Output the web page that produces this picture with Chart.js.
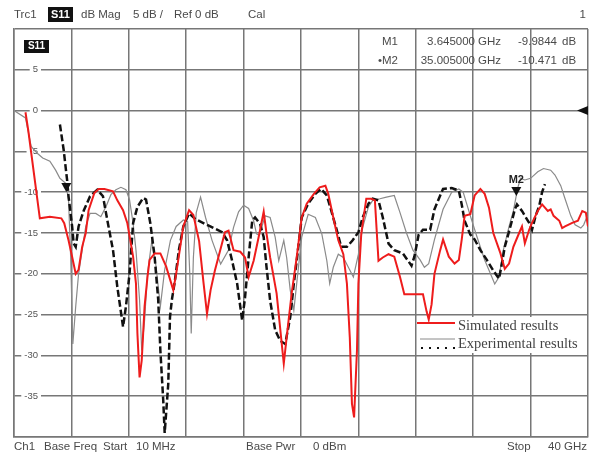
<!DOCTYPE html>
<html>
<head>
<meta charset="utf-8">
<script src="https://cdn.jsdelivr.net/npm/chart.js@4"></script>
<style>
  html, body { margin: 0; padding: 0; background: #fff; }
  #wrap { width: 589px; height: 459px; }
</style>
</head>
<body>
<div id="wrap"><canvas id="vnaChart" width="589" height="459"></canvas></div>
<script>
// frequency in GHz, magnitude in dB
const simFreq = [0.8, 1.0, 1.8, 2.5, 3.3, 3.5, 3.8, 4.05, 4.3, 4.5, 4.75, 5.0, 5.2, 5.6, 5.9, 6.3, 6.9, 7.2, 7.6, 7.9,
  8.3, 8.5, 8.6, 8.75, 8.9, 9.1, 9.3, 9.45, 9.8, 10.2, 10.6, 11.1, 11.3, 11.8, 12.2, 12.5, 12.9, 13.2, 13.45, 13.7,
  14.0, 14.7, 14.95, 15.3, 15.77, 16.1, 16.35, 16.7, 17.05, 17.4, 17.6, 17.85, 18.3, 18.8, 19.0, 19.35, 19.7, 20.05, 20.4, 20.9,
  21.3, 21.7, 21.9, 22.25, 22.6, 22.95, 23.2, 23.4, 23.55, 23.7, 23.9, 24.0, 24.2, 24.55, 24.9, 25.15, 25.4, 25.7, 26.1, 26.5,
  26.9, 27.2, 27.8, 28.5, 28.75, 28.9, 29.1, 29.3, 29.7, 29.9, 30.3, 30.7, 31.0, 31.2, 31.4, 31.8, 32.1, 32.5, 32.8, 33.1,
  33.4, 33.9, 34.2, 34.5, 34.8, 35.2, 35.4, 35.6, 35.9, 36.1, 36.5, 36.8, 37.2, 37.4, 37.6, 38.0, 38.2, 38.4, 38.9, 39.3,
  39.6, 39.85, 40.0];
const simDb = [-0.2, -2.5, -13.2, -13.0, -13.2, -13.8, -15.9, -17.9, -20.0, -19.5, -16.7, -15.0, -12.2, -10.1, -9.6, -9.6, -9.9, -11.0, -12.2, -13.8,
  -17.9, -21.2, -27.3, -32.7, -30.6, -24.0, -20.4, -18.3, -17.5, -17.5, -19.1, -22.0, -20.0, -14.2, -12.2, -12.8, -16.0, -21.0, -24.9, -22.0,
  -19.6, -14.9, -14.7, -17.1, -17.3, -18.0, -20.4, -18.4, -15.5, -12.4, -15.1, -18.0, -22.4, -31.0, -27.8, -22.4, -18.0, -13.1, -11.4, -10.2,
  -9.4, -9.2, -10.2, -13.1, -15.9, -17.6, -21.2, -27.8, -35.9, -37.6, -29.4, -21.2, -15.1, -10.8, -10.8, -11.0, -18.4, -18.0, -17.6, -17.9,
  -20.4, -22.5, -22.5, -22.5, -24.6, -25.6, -23.75, -20.0, -17.1, -15.8, -17.9, -18.75, -18.3, -15.8, -12.9, -12.7, -10.4, -9.6, -10.2, -11.9,
  -15.0, -17.5, -19.4, -18.75, -16.7, -15.0, -14.2, -16.25, -14.6, -13.75, -12.3, -11.5, -12.3, -12.1, -12.9, -13.5, -14.4, -14.2, -13.75, -13.5,
  -12.3, -12.5, -14.2];

const expFreq = [3.2, 3.46, 3.7, 3.8, 4.05, 4.16, 4.3, 4.5, 4.87, 5.3, 5.8, 6.2, 6.5, 6.9, 7.2, 7.6, 7.8, 8.05, 8.3, 8.6,
  9.0, 9.2, 9.5, 9.8, 10.05, 10.2, 10.4, 10.5, 10.75, 10.87, 11.0, 11.2, 11.5, 11.8, 12.2, 12.64, 13.57, 14.5, 14.85, 15.2,
  15.55, 15.9, 16.1, 16.35, 16.6, 16.8, 17.15, 17.4, 17.6, 17.85, 18.2, 18.55, 18.9, 19.25, 19.5, 19.7, 20.05, 20.5, 21.0, 21.4,
  21.8, 22.1, 22.5, 22.8, 23.2, 23.6, 24.0, 24.3, 24.7, 25.0, 25.4, 25.7, 26.1, 26.5, 27.1, 27.7, 27.9, 28.2, 28.5, 29.0,
  29.3, 29.7, 29.9, 30.5, 31.0, 31.2, 31.4, 31.8, 32.1, 32.5, 32.95, 33.4, 33.8, 34.0, 34.2, 34.5, 34.7, 34.9, 35.05, 35.4,
  35.6, 35.9, 36.1, 36.35, 36.6, 36.8, 37.0];
const expDb = [-1.7, -4.8, -8.5, -10.5, -14.2, -16.3, -16.7, -14.2, -12.2, -10.5, -9.7, -10.5, -13.4, -17.1, -21.6, -26.5, -24.0, -20.0, -13.8, -11.8,
  -10.7, -10.9, -13.8, -17.9, -23.2, -29.4, -35.5, -39.5, -33.5, -25.3, -23.2, -21.0, -17.0, -14.2, -12.6, -13.3, -14.1, -14.9, -15.9, -18.4,
  -21.2, -25.7, -22.9, -18.0, -13.5, -13.1, -13.9, -15.5, -19.2, -23.3, -26.9, -28.2, -28.6, -25.3, -21.2, -18.4, -13.1, -11.4, -10.2, -9.6,
  -10.4, -12.2, -14.7, -16.7, -16.7, -15.9, -14.9, -13.1, -11.4, -10.8, -11.0, -13.1, -16.3, -17.1, -17.5, -19.0, -17.9, -15.2, -14.6, -14.6,
  -12.1, -10.4, -9.6, -9.5, -9.8, -11.5, -13.5, -15.2, -15.8, -17.1, -18.3, -19.6, -20.6, -18.75, -16.7, -14.8, -13.5, -12.1, -11.5, -12.3,
  -12.9, -13.75, -14.6, -12.9, -11.7, -10.0, -9.0];

const measFreq = [0, 0.8, 1.2, 1.6, 2.0, 2.5, 2.9, 3.2, 3.6, 3.8, 3.95, 4.1, 4.3, 4.5, 5.0, 5.3, 5.7, 6.05, 6.4, 6.75,
  7.1, 7.45, 7.8, 8.05, 8.3, 8.5, 8.75, 8.9, 9.1, 9.3, 9.6, 9.9, 10.2, 10.5, 10.9, 11.3, 11.8, 12.1, 12.25, 12.35,
  12.5, 12.7, 13.0, 13.35, 13.8, 14.4, 14.95, 15.3, 15.65, 16.0, 16.35, 16.7, 16.9, 17.1, 17.5, 17.85, 18.2, 18.45, 18.8, 19.0,
  19.25, 19.5, 19.7, 20.05, 20.5, 21.0, 21.45, 21.8, 22.0, 22.25, 22.6, 22.95, 23.3, 23.65, 24.0, 24.3, 24.7, 25.0, 25.5, 25.95,
  26.5, 26.9, 27.35, 27.8, 28.3, 28.6, 28.9, 29.3, 29.9, 30.5, 31.0, 31.3, 31.8, 32.25, 32.8, 33.3, 33.5, 33.8, 34.1, 34.5,
  34.8, 35.1, 35.3, 35.6, 36.0, 36.5, 36.9, 37.4, 37.7, 38.1, 38.4, 38.8, 39.1, 39.5, 39.7, 39.95];
const measDb = [0, -0.9, -4.4, -5.2, -5.8, -6.2, -7.3, -8.3, -8.9, -10.9, -18.0, -28.6, -24.0, -20.0, -14.2, -12.6, -12.6, -13.0, -11.8, -10.3,
  -9.7, -9.4, -9.7, -10.9, -13.8, -17.1, -23.2, -29.4, -25.7, -20.0, -16.0, -19.1, -24.0, -19.5, -15.9, -14.2, -13.4, -13.6, -20.0, -27.3,
  -18.0, -12.5, -10.6, -13.1, -15.9, -18.8, -17.1, -14.3, -12.4, -11.6, -12.0, -13.5, -15.1, -15.3, -12.9, -13.1, -15.5, -18.4, -15.9, -18.0,
  -22.0, -24.5, -21.2, -15.5, -12.7, -13.1, -15.1, -18.4, -21.2, -19.2, -17.6, -18.0, -19.2, -20.4, -17.6, -14.3, -11.8, -11.0, -10.8, -10.6,
  -10.4, -12.5, -15.0, -17.1, -18.3, -19.2, -18.75, -15.8, -12.1, -10.0, -9.6, -10.0, -12.9, -15.4, -18.3, -20.4, -21.25, -20.4, -17.1, -14.2,
  -12.3, -9.5, -8.3, -8.5, -8.3, -7.5, -7.1, -7.3, -7.9, -9.2, -10.8, -12.9, -14.0, -14.4, -14.0, -12.9];

const yTickLabels = [5, 0, -5, -10, -15, -20, -25, -30, -35];
const markerNames = ['M1', 'M2'];
const markerFreq = [3.645, 35.005];
const markerDb = [-9.9844, -10.471];
const markerFreqText = ['3.645000', '35.005000'];
const markerDbText = ['-9.9844', '-10.471'];
const legendLabels = ['Simulated results', 'Experimental results'];

function toPoints(xs, ys) {
  return xs.map((x, i) => ({ x: x, y: ys[i] }));
}

const GRID = '#777777';
const TXT = '#4a4a4a';
const SANS = '"Liberation Sans", Arial, sans-serif';
const FONT = '11.5px ' + SANS;

function txt(ctx, s, x, y, align, font, color) {
  ctx.font = font || FONT;
  ctx.fillStyle = color || TXT;
  ctx.textAlign = align || 'left';
  ctx.textBaseline = 'middle';
  ctx.fillText(s, x, y);
}

const vnaOverlay = {
  id: 'vnaOverlay',
  beforeDatasetsDraw(chart) {
    const ctx = chart.ctx;
    const y = chart.scales.y;
    ctx.save();
    ctx.font = '9.5px ' + SANS;
    yTickLabels.forEach(v => {
      const py = y.getPixelForValue(v);
      const t = String(v);
      const w = ctx.measureText(t).width;
      ctx.fillStyle = '#fff';
      ctx.fillRect(38 - w - 3, py - 3, w + 6, 6);
      txt(ctx, t, 38, py, 'right', '9.5px ' + SANS, '#555');
    });
    // S11 tag inside the grid
    ctx.fillStyle = '#111';
    ctx.fillRect(24, 40, 25, 13);
    txt(ctx, 'S11', 36.5, 46.5, 'center', 'bold 10px ' + SANS, '#fff');
    ctx.restore();
  },
  afterDraw(chart) {
    const ctx = chart.ctx;
    const { x, y } = chart.scales;
    const area = chart.chartArea;
    ctx.save();

    // header line
    txt(ctx, 'Trc1', 14, 15);
    ctx.fillStyle = '#111';
    ctx.fillRect(48, 7, 25, 15);
    txt(ctx, 'S11', 60.5, 15, 'center', 'bold 11px ' + SANS, '#fff');
    txt(ctx, 'dB Mag', 81, 15);
    txt(ctx, '5 dB /', 133, 15);
    txt(ctx, 'Ref 0 dB', 174, 15);
    txt(ctx, 'Cal', 248, 15);
    txt(ctx, '1', 586, 15, 'right');

    // footer line
    const fy = 447;
    txt(ctx, 'Ch1', 14, fy);
    txt(ctx, 'Base Freq', 44, fy);
    txt(ctx, 'Start', 103, fy);
    txt(ctx, '10 MHz', 136, fy);
    txt(ctx, 'Base Pwr', 246, fy);
    txt(ctx, '0 dBm', 313, fy);
    txt(ctx, 'Stop', 507, fy);
    txt(ctx, '40 GHz', 587, fy, 'right');

    // marker table
    const rowY = [42, 61];
    markerNames.forEach((m, i) => {
      txt(ctx, (i === 1 ? '\u2022' : '') + m, 398, rowY[i], 'right');
      txt(ctx, markerFreqText[i], 475, rowY[i], 'right');
      txt(ctx, 'GHz', 478, rowY[i]);
      txt(ctx, markerDbText[i], 557, rowY[i], 'right');
      txt(ctx, 'dB', 562, rowY[i]);
    });

    // marker triangles
    markerNames.forEach((m, i) => {
      const px = x.getPixelForValue(markerFreq[i]);
      const py = y.getPixelForValue(markerDb[i]);
      ctx.fillStyle = '#111';
      ctx.beginPath();
      ctx.moveTo(px, py);
      ctx.lineTo(px - 5, py - 9);
      ctx.lineTo(px + 5, py - 9);
      ctx.closePath();
      ctx.fill();
      if (i === 1) txt(ctx, m, px, py - 16, 'center', 'bold 11px ' + SANS, '#222');
    });

    // reference level arrow
    const ry = y.getPixelForValue(0);
    ctx.fillStyle = '#111';
    ctx.beginPath();
    ctx.moveTo(area.right - 11, ry);
    ctx.lineTo(area.right, ry - 4.5);
    ctx.lineTo(area.right, ry + 4.5);
    ctx.closePath();
    ctx.fill();

    // legend
    ctx.fillStyle = '#fff';
    ctx.fillRect(456, 317, 130, 36);
    ctx.strokeStyle = '#ee1c1c';
    ctx.lineWidth = 2;
    ctx.beginPath(); ctx.moveTo(417, 323); ctx.lineTo(455, 323); ctx.stroke();
    ctx.strokeStyle = '#8a8a8a';
    ctx.lineWidth = 1;
    ctx.beginPath(); ctx.moveTo(420, 339); ctx.lineTo(455, 339); ctx.stroke();
    ctx.strokeStyle = '#111';
    ctx.lineWidth = 2;
    ctx.setLineDash([2, 6]);
    ctx.beginPath(); ctx.moveTo(421, 348); ctx.lineTo(455, 348); ctx.stroke();
    ctx.setLineDash([]);
    const serif = '14.5px "Liberation Serif", "Times New Roman", serif';
    txt(ctx, legendLabels[0], 458, 326, 'left', serif, '#444');
    txt(ctx, legendLabels[1], 458, 344, 'left', serif, '#444');

    ctx.restore();
  }
};

const ctx = document.getElementById('vnaChart').getContext('2d');
new Chart(ctx, {
  type: 'line',
  data: {
    datasets: [{
      label: legendLabels[0],
      data: toPoints(simFreq, simDb),
      borderColor: '#ee1c1c',
      borderWidth: 2,
      pointRadius: 0,
      tension: 0
    }, {
      label: legendLabels[1],
      data: toPoints(expFreq, expDb),
      borderColor: '#111111',
      borderWidth: 2.5,
      borderDash: [7, 3],
      pointRadius: 0,
      tension: 0
    }, {
      label: 'Measured trace',
      data: toPoints(measFreq, measDb),
      borderColor: '#8a8a8a',
      borderWidth: 1.2,
      pointRadius: 0,
      tension: 0
    }]
  },
  options: {
    responsive: false,
    devicePixelRatio: 1,
    animation: false,
    layout: { padding: { left: 14, top: 29, right: 1, bottom: 22 } },
    plugins: { legend: { display: false }, tooltip: { enabled: false } },
    scales: {
      x: {
        type: 'linear',
        min: 0,
        max: 40,
        ticks: { display: false, stepSize: 4 },
        grid: { color: GRID, lineWidth: 1.5, drawTicks: false },
        border: { display: true, color: GRID, width: 1.5 }
      },
      y: {
        min: -40,
        max: 10,
        ticks: { display: false, stepSize: 5 },
        grid: { color: GRID, lineWidth: 1.5, drawTicks: false },
        border: { display: true, color: GRID, width: 1.5 }
      }
    }
  },
  plugins: [vnaOverlay]
});
</script>
</body>
</html>
